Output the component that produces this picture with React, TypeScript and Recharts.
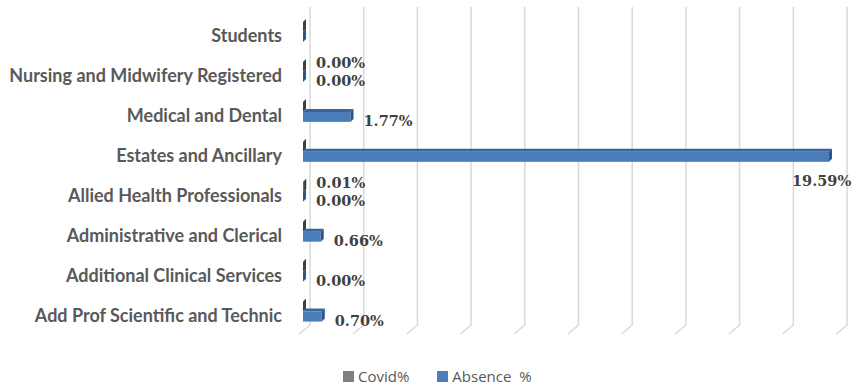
import { BarChart, Bar, XAxis, YAxis, CartesianGrid, LabelList } from "recharts";

const categories = [
  "Students",
  "Nursing and Midwifery Registered",
  "Medical and Dental",
  "Estates and Ancillary",
  "Allied Health Professionals",
  "Administrative and Clerical",
  "Additional Clinical Services",
  "Add Prof Scientific and Technic",
];
const covidPct = [0, 0, 0, 0, 0.01, 0, 0, 0];
const absencePct = [0, 0, 1.77, 19.59, 0, 0.66, 0, 0.7];
// labels Excel kept on the chart (others were removed)
const covidLabels = [null, "0.00%", null, null, "0.01%", null, null, null];
const absenceLabels = [null, "0.00%", "1.77%", "19.59%", "0.00%", "0.66%", "0.00%", "0.70%"];
const xTicks = [0, 2, 4, 6, 8, 10, 12, 14, 16, 18, 20];

const seriesNames = ["Covid%", "Absence  %"];
const seriesColors = ["#7f7f7f", "#4a7ebb"];

const W = 852;
const H = 388;
const DEPTH = 3;

const data = categories.map((name, i) => ({
  name,
  covid: covidPct[i],
  absence: absencePct[i],
  covidLabel: covidLabels[i],
  absenceLabel: absenceLabels[i],
}));

function makeBar(top: string, side: string) {
  return (props: any) => {
    const { x, y, width, height, fill } = props;
    const w = Math.max(width || 0, 0);
    const d = DEPTH;
    return (
      <g>
        <rect x={x} y={y} width={w} height={height} fill={fill} />
        <polygon
          points={`${x},${y} ${x + d},${y - d} ${x + w + d},${y - d} ${x + w},${y}`}
          fill={top}
        />
        <polygon
          points={`${x + w},${y} ${x + w + d},${y - d} ${x + w + d},${y + height - d} ${x + w},${y + height}`}
          fill={side}
        />
      </g>
    );
  };
}

function makeLabel(shift: number) {
  return (props: any) => {
    const { x, y, width, height, value } = props;
    if (!value) return null;
    const end = x + width;
    let tx = end + 13;
    let ty = y + height / 2 + shift;
    if (tx + 60 > W) {
      // no room on the right: Excel drops it under the bar end
      tx = end - 37;
      ty = y + height / 2 + 24;
    }
    return (
      <text
        x={tx}
        y={ty}
        dominantBaseline="central"
        fontFamily="'DejaVu Serif', serif"
        fontWeight="bold"
        fontSize={14.5}
        fill="#404040"
      >
        {value}
      </text>
    );
  };
}

function CategoryTick(props: any) {
  const { x, y, payload } = props;
  return (
    <text
      x={x - 13}
      y={y + 3}
      textAnchor="end"
      dominantBaseline="central"
      fontFamily="Lato, sans-serif"
      fontWeight="bold"
      fontSize={18}
      fill="#595959"
    >
      {payload.value}
    </text>
  );
}

function gridLine(props: any) {
  const { x1, y1, y2, key } = props;
  return (
    <path
      key={key}
      d={`M${x1 + 7},${y1 - 5} L${x1 + 7},${y2 - 6.5} L${x1 - 3.6},${y2 + 2.5}`}
      stroke="#d9d9d9"
      strokeWidth={1.5}
      fill="none"
    />
  );
}

export default function App() {
  return (
    <div style={{ position: "absolute", left: 0, top: 0, width: W, height: H, background: "#fff" }}>
      <BarChart
        width={W}
        height={H}
        data={data}
        layout="vertical"
        margin={{ top: 12, right: 12, bottom: 56.5, left: 3 }}
        barGap={0}
        barSize={10}
      >
        <CartesianGrid horizontal={false} vertical={gridLine} />
        <XAxis type="number" domain={[0, 20]} ticks={xTicks} hide />
        <YAxis
          type="category"
          dataKey="name"
          width={300}
          axisLine={false}
          tickLine={false}
          tick={<CategoryTick />}
          interval={0}
        />
        <Bar
          dataKey="covid"
          name={seriesNames[0]}
          fill={seriesColors[0]}
          shape={makeBar("#5f5f5f", "#3f3f3f")}
          isAnimationActive={false}
        >
          <LabelList dataKey="covidLabel" content={makeLabel(-4)} />
        </Bar>
        <Bar
          dataKey="absence"
          name={seriesNames[1]}
          fill={seriesColors[1]}
          shape={makeBar("#3a659a", "#2f5584")}
          isAnimationActive={false}
        >
          <LabelList dataKey="absenceLabel" content={makeLabel(4)} />
        </Bar>
      </BarChart>
      <div
        style={{
          position: "absolute",
          top: 366,
          left: 343,
          display: "flex",
          gap: 28,
          fontFamily: "'Open Sans', sans-serif",
          fontSize: 15,
          color: "#595959",
        }}
      >
        {seriesNames.map((n, i) => (
          <div key={n} style={{ display: "flex", alignItems: "center" }}>
            <span
              style={{ display: "inline-block", width: 11, height: 11, background: seriesColors[i], marginRight: 4 }}
            />
            <span style={{ whiteSpace: "pre" }}>{n}</span>
          </div>
        ))}
      </div>
    </div>
  );
}
